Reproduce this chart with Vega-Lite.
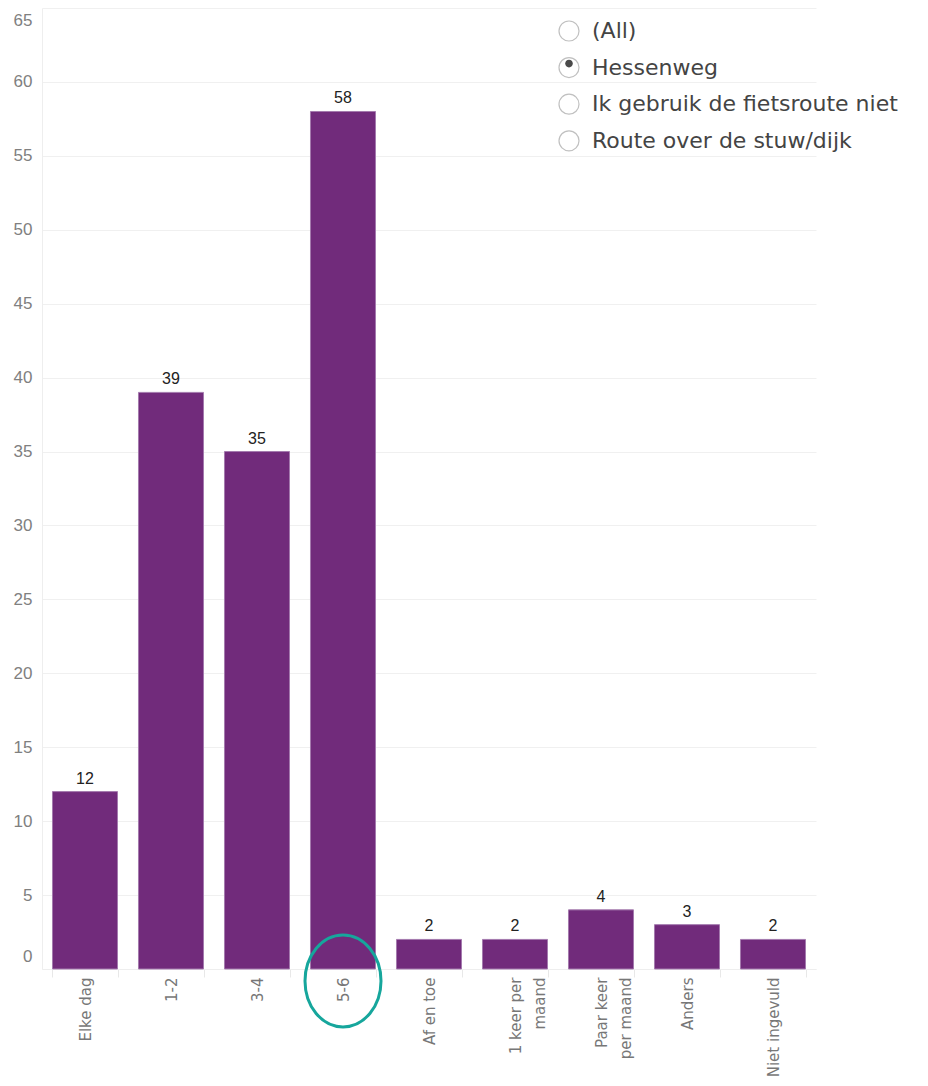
{
  "$schema": "https://vega.github.io/schema/vega-lite/v6.json",
  "autosize": {"type": "none"},
  "padding": {"left": 42, "top": 8, "right": 112, "bottom": 117},
  "width": 774,
  "height": 961,
  "background": "white",
  "config": {"view": {"stroke": null}},
  "datasets": {
    "bars": [
      {"category": "Elke dag", "count": 12},
      {"category": "1-2", "count": 39},
      {"category": "3-4", "count": 35},
      {"category": "5-6", "count": 58},
      {"category": "Af en toe", "count": 2},
      {"category": "1 keer per maand", "count": 2},
      {"category": "Paar keer per maand", "count": 4},
      {"category": "Anders", "count": 3},
      {"category": "Niet ingevuld", "count": 2}
    ],
    "routes": [
      {"route": "(All)"},
      {"route": "Hessenweg"},
      {"route": "Ik gebruik de fietsroute niet"},
      {"route": "Route over de stuw/dijk"}
    ],
    "selected": [
      {"r2": "a"}, {"r2": "b"}, {"r2": "c"}, {"r2": "d"}
    ],
    "highlight": [
      {"category": "5-6", "count": -0.81}
    ]
  },
  "encoding": {
    "x": {
      "field": "category",
      "type": "nominal",
      "sort": null,
      "scale": {
        "domain": ["Elke dag", "1-2", "3-4", "5-6", "Af en toe", "1 keer per maand", "Paar keer per maand", "Anders", "Niet ingevuld"],
        "paddingInner": 0.244,
        "paddingOuter": 0.122
      },
      "axis": {
        "title": null,
        "labelAngle": -90,
        "labelAlign": "right",
        "labelBaseline": "middle",
        "labelFont": "DejaVu Sans",
        "labelFontSize": 15,
        "labelColor": "#777777",
        "labelPadding": 0,
        "labelLineHeight": 24,
        "labelExpr": "datum.label == '1 keer per maand' ? ['1 keer per', 'maand'] : datum.label == 'Paar keer per maand' ? ['Paar keer', 'per maand'] : datum.label",
        "tickBand": "extent",
        "tickColor": "#e8e8e8",
        "tickSize": 8,
        "domainColor": "#eeeeee",
        "grid": false
      }
    },
    "y": {
      "field": "count",
      "type": "quantitative",
      "scale": {"domain": [0, 65], "nice": false},
      "axis": {
        "title": null,
        "values": [0, 5, 10, 15, 20, 25, 30, 35, 40, 45, 50, 55, 60, 65],
        "labelFlush": true,
        "labelFlushOffset": -4,
        "labelFont": "Liberation Sans",
        "labelFontSize": 17,
        "labelColor": "#808080",
        "labelPadding": 10,
        "ticks": false,
        "domainColor": "#eeeeee",
        "gridColor": "#f0f0f0"
      }
    }
  },
  "layer": [
    {
      "data": {"name": "bars"},
      "mark": {"type": "bar", "color": "#712b7b", "stroke": "#a47aae", "strokeWidth": 1}
    },
    {
      "data": {"name": "bars"},
      "mark": {"type": "text", "baseline": "bottom", "dy": -5, "font": "Liberation Sans", "fontSize": 16, "color": "#222222"},
      "encoding": {"text": {"field": "count", "type": "quantitative"}}
    },
    {
      "data": {"name": "highlight"},
      "mark": {
        "type": "point",
        "shape": "M-1,0A1,1.21 0 1,1 1,0A1,1.21 0 1,1 -1,0Z",
        "size": 5776,
        "filled": false,
        "stroke": "#16a69c",
        "strokeWidth": 3,
        "opacity": 1,
        "clip": false
      }
    },
    {
      "data": {"name": "routes"},
      "mark": {"type": "point", "opacity": 0, "filled": true},
      "encoding": {
        "x": {"value": 0},
        "y": {"value": 0},
        "fill": {
          "field": "route",
          "type": "nominal",
          "scale": {
            "domain": ["(All)", "Hessenweg", "Ik gebruik de fietsroute niet", "Route over de stuw/dijk"],
            "range": ["transparent", "transparent", "transparent", "transparent"]
          },
          "legend": {
            "title": null,
            "orient": "none",
            "legendX": 516,
            "legendY": 12,
            "direction": "vertical",
            "padding": 0,
            "symbolType": "circle",
            "symbolSize": 400,
            "symbolOpacity": 1,
            "symbolStrokeColor": "#c0c0c0",
            "symbolStrokeWidth": 1.2,
            "labelFont": "DejaVu Sans",
            "labelFontSize": 22,
            "labelColor": "#444444",
            "labelOffset": 12,
            "labelLimit": 400,
            "rowPadding": 10.6
          }
        }
      }
    },
    {
      "data": {"name": "selected"},
      "mark": {"type": "point", "opacity": 0, "filled": true},
      "encoding": {
        "x": {"value": 0},
        "y": {"value": 0},
        "color": {
          "field": "r2",
          "type": "nominal",
          "scale": {
            "domain": ["a", "b", "c", "d"],
            "range": ["transparent", "#4a4a4a", "transparent", "transparent"]
          },
          "legend": {
            "title": null,
            "orient": "none",
            "legendX": 516,
            "legendY": 12,
            "direction": "vertical",
            "padding": 0,
            "symbolType": "M-0.38,0A0.38,0.38 0 1,1 0.38,0A0.38,0.38 0 1,1 -0.38,0Z",
            "symbolSize": 400,
            "symbolOpacity": 1,
            "symbolStrokeWidth": 1.2,
            "symbolStrokeColor": "transparent",
            "labelExpr": "' '",
            "labelFont": "DejaVu Sans",
            "labelFontSize": 22,
            "labelOpacity": 0,
            "labelOffset": 12,
            "rowPadding": 10.6
          }
        }
      }
    }
  ]
}
